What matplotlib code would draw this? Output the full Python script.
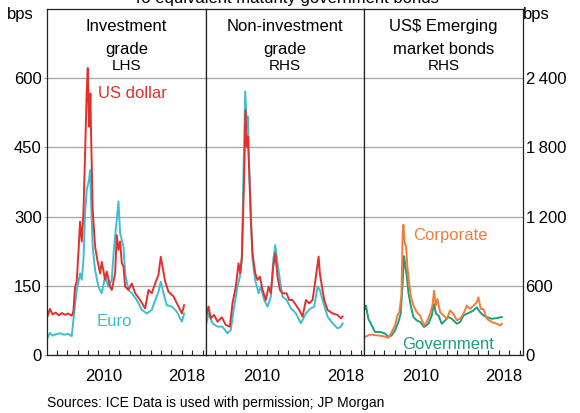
import matplotlib
matplotlib.use("Agg")
import matplotlib.pyplot as plt

plt.rcParams['font.family'] = ['Liberation Sans', 'DejaVu Sans']

# Investment grade spreads (LHS, bps)
ig_usd_t = [2005.10, 2005.35, 2005.60, 2005.90, 2006.20, 2006.50, 2006.80, 2007.10,
            2007.44, 2007.60, 2007.76, 2007.92, 2008.10, 2008.24, 2008.40, 2008.56,
            2008.72, 2008.88, 2008.98, 2009.05, 2009.13, 2009.23, 2009.29, 2009.45,
            2009.68, 2009.90, 2010.16, 2010.32, 2010.64, 2010.80, 2011.12, 2011.28,
            2011.60, 2011.76, 2011.92, 2012.08, 2012.24, 2012.40, 2012.56, 2012.88,
            2013.20, 2013.52, 2014.00, 2014.48, 2014.80, 2015.12, 2015.44, 2015.76,
            2015.98, 2016.14, 2016.40, 2016.72, 2017.20, 2017.68, 2018.00, 2018.22]
ig_usd = [83, 100, 88, 92, 86, 91, 87, 90,
          85, 95, 148, 160, 230, 289, 246, 307,
          437, 575, 622, 540, 495, 567, 484, 314,
          235, 206, 177, 202, 163, 181, 148, 141,
          177, 260, 228, 246, 199, 192, 148, 141,
          155, 134, 119, 101, 141, 134, 155, 174,
          213, 192, 159, 137, 127, 105, 90, 108]

ig_eur_t = [2005.10, 2005.35, 2005.60, 2005.90, 2006.32, 2006.70, 2007.10, 2007.44,
            2007.60, 2007.76, 2007.92, 2008.24, 2008.40, 2008.56, 2008.72, 2008.88,
            2009.10, 2009.20, 2009.29, 2009.45, 2009.68, 2010.00, 2010.32, 2010.64,
            2010.96, 2011.28, 2011.50, 2011.76, 2011.92, 2012.08, 2012.24, 2012.40,
            2012.56, 2012.88, 2013.20, 2013.68, 2014.16, 2014.64, 2015.12, 2015.44,
            2015.76, 2015.98, 2016.24, 2016.56, 2017.04, 2017.52, 2018.00, 2018.22]
ig_eur = [36, 48, 42, 45, 47, 44, 46, 41,
          76, 110, 140, 177, 163, 206, 307, 358,
          380, 401, 336, 235, 184, 148, 134, 170,
          148, 163, 235, 293, 333, 264, 249, 235,
          177, 141, 134, 119, 98, 90, 98, 119,
          137, 159, 134, 108, 105, 94, 72, 90]

# Non-investment grade spreads (RHS, bps)
nig_usd_t = [2005.01, 2005.36, 2005.58, 2005.90, 2006.22, 2006.64, 2007.02, 2007.41,
             2007.66, 2007.98, 2008.24, 2008.40, 2008.56, 2008.72, 2008.82, 2008.91,
             2009.04, 2009.13, 2009.26, 2009.42, 2009.58, 2009.84, 2010.06, 2010.29,
             2010.54, 2010.86, 2011.12, 2011.34, 2011.57, 2011.76, 2011.98, 2012.21,
             2012.46, 2012.85, 2013.10, 2013.42, 2013.74, 2014.06, 2014.38, 2014.70,
             2015.02, 2015.34, 2015.66, 2015.92, 2016.04, 2016.24, 2016.46, 2016.78,
             2017.26, 2017.74, 2018.06, 2018.22]
nig_usd = [290, 420, 318, 347, 289, 327, 260, 246,
           448, 593, 795, 708, 853, 1345, 1692, 2125,
           1807, 1894, 1605, 1171, 882, 708, 651, 680,
           564, 477, 593, 535, 766, 882, 680, 564,
           535, 535, 477, 477, 434, 390, 333, 477,
           448, 477, 680, 853, 708, 593, 477, 390,
           361, 347, 318, 333]

nig_eur_t = [2005.01, 2005.36, 2005.74, 2006.22, 2006.70, 2007.18, 2007.50, 2007.82,
             2008.14, 2008.37, 2008.56, 2008.72, 2008.88, 2009.04, 2009.13, 2009.26,
             2009.42, 2009.58, 2009.84, 2010.16, 2010.38, 2010.70, 2011.02, 2011.34,
             2011.57, 2011.76, 2011.98, 2012.21, 2012.46, 2012.85, 2013.26, 2013.74,
             2014.22, 2014.70, 2015.18, 2015.50, 2015.82, 2016.04, 2016.30, 2016.78,
             2017.26, 2017.74, 2018.06, 2018.22]
nig_eur = [217, 361, 275, 246, 246, 188, 217, 419,
           593, 680, 824, 1605, 2285, 1981, 2068, 1634,
           1229, 824, 651, 535, 593, 477, 419, 506,
           824, 954, 795, 651, 506, 477, 405, 361,
           275, 361, 405, 419, 593, 564, 477, 333,
           275, 231, 246, 275]

# US$ emerging market bonds (RHS, bps)
em_corp_t = [2005.17, 2005.65, 2006.29, 2006.93, 2007.41, 2007.73, 2008.05, 2008.27,
             2008.46, 2008.66, 2008.78, 2008.85, 2008.98, 2009.10, 2009.23, 2009.39,
             2009.55, 2009.81, 2010.13, 2010.45, 2010.83, 2011.09, 2011.41, 2011.63,
             2011.79, 2011.95, 2012.11, 2012.37, 2012.69, 2013.01, 2013.33, 2013.65,
             2013.97, 2014.29, 2014.61, 2014.93, 2015.25, 2015.57, 2015.88, 2016.04,
             2016.27, 2016.52, 2016.84, 2017.32, 2017.80, 2018.12, 2018.28]
em_corp = [157, 177, 171, 163, 149, 200, 257, 343,
           371, 514, 1057, 1129, 971, 943, 771, 628,
           514, 428, 371, 343, 257, 286, 357, 428,
           557, 428, 486, 371, 343, 314, 386, 357,
           300, 314, 357, 428, 400, 428, 457, 500,
           400, 400, 314, 286, 271, 257, 271]

em_gov_t = [2005.17, 2005.26, 2005.49, 2005.81, 2006.13, 2006.61, 2007.09, 2007.41,
            2007.73, 2008.05, 2008.37, 2008.59, 2008.78, 2008.91, 2009.04, 2009.17,
            2009.33, 2009.55, 2009.81, 2010.13, 2010.45, 2010.83, 2011.25, 2011.57,
            2011.79, 2011.98, 2012.21, 2012.53, 2012.85, 2013.17, 2013.49, 2013.97,
            2014.29, 2014.61, 2014.93, 2015.25, 2015.57, 2015.88, 2016.20, 2016.52,
            2016.84, 2017.32, 2017.80, 2018.28]
em_gov = [400, 428, 314, 257, 200, 200, 186, 157,
          171, 214, 286, 357, 628, 857, 771, 686,
          543, 428, 329, 300, 286, 243, 271, 343,
          443, 357, 343, 271, 300, 329, 314, 271,
          286, 343, 357, 371, 386, 414, 371, 343,
          329, 314, 320, 329]

lhs_ticks = [0, 150, 300, 450, 600]
rhs_ticks = [0, 600, 1200, 1800, 2400]
rhs_labels = ["0", "600", "1\u2009200", "1\u2009800", "2\u2009400"]
year_labels = ["2010", "2018"]

RED = "#e3302d"
CYAN = "#3dbfcf"
ORANGE = "#f47b3a"
GREEN = "#1d9e7c"
GRID = "#a6a6a6"

fig = plt.figure(figsize=(5.8, 4.13), dpi=100)
bottom, height = 0.1404, 0.8378
lefts = [0.0816, 0.3548, 0.6281]
width = 0.2733
axes = [fig.add_axes([l, bottom, width, height]) for l in lefts]

for i, ax in enumerate(axes):
    ax.set_xlim(2005.1, 2020.3)
    if i == 0:
        ax.set_ylim(0, 750)
        ax.set_yticks(lhs_ticks)
    else:
        ax.set_ylim(0, 3000)
        ax.set_yticks(rhs_ticks)
    ax.grid(axis='y', color=GRID, lw=0.9)
    ax.set_axisbelow(True)
    ax.set_xticks(range(2006, 2021))
    ax.set_xticklabels([])
    ax.set_xticks([2010.5, 2018.5], year_labels, minor=True)
    ax.tick_params(axis='x', which='major', direction='in', length=3.5, width=0.8, color='#222222')
    ax.tick_params(axis='x', which='minor', length=0, pad=10, labelsize=12)
    for s in ax.spines.values():
        s.set_color('#222222')
        s.set_linewidth(0.9)

axes[0].tick_params(axis='y', length=2.5, width=0.8, color=GRID, pad=1.5, labelsize=12)
axes[1].tick_params(axis='y', length=0, labelleft=False)
axes[2].yaxis.tick_right()
axes[2].set_yticklabels(rhs_labels)
axes[2].tick_params(axis='y', length=0, pad=2, labelsize=12)

axes[0].plot(ig_eur_t, ig_eur, color=CYAN, lw=1.4)
axes[0].plot(ig_usd_t, ig_usd, color=RED, lw=1.4)
axes[1].plot(nig_eur_t, nig_eur, color=CYAN, lw=1.4)
axes[1].plot(nig_usd_t, nig_usd, color=RED, lw=1.4)
axes[2].plot(em_gov_t, em_gov, color=GREEN, lw=1.4)
axes[2].plot(em_corp_t, em_corp, color=ORANGE, lw=1.4)

titles = ["Investment\ngrade", "Non-investment\ngrade", "US$ Emerging\nmarket bonds"]
sides = ["LHS", "RHS", "RHS"]
for ax, t, s in zip(axes, titles, sides):
    ax.text(0.5, 0.97, t, transform=ax.transAxes, ha='center', va='top',
            fontsize=12, linespacing=1.6)
    ax.text(0.5, 0.835, s, transform=ax.transAxes, ha='center', va='center', fontsize=11)

axes[0].text(2009.95, 567, "US dollar", color=RED, fontsize=12, va='center')
axes[0].text(2009.8, 72, "Euro", color=CYAN, fontsize=12, va='center')
axes[2].text(2009.75, 1040, "Corporate", color=ORANGE, fontsize=12, va='center')
axes[2].text(2008.75, 95, "Government", color=GREEN, fontsize=12, va='center')

fig.text(0.012, 1 - 15 / 413, "bps", fontsize=12, va='center', ha='left')
fig.text(0.902, 1 - 15 / 413, "bps", fontsize=12, va='center', ha='left')
fig.text(0.493, 1 - 3.3 / 413, "To equivalent maturity government bonds", fontsize=12,
         ha='center', va='baseline')
fig.text(46.7 / 580, 1 - 402.7 / 413, "Sources: ICE Data is used with permission; JP Morgan",
         fontsize=10, ha='left', va='center')

fig.savefig("out.png", dpi=100)
